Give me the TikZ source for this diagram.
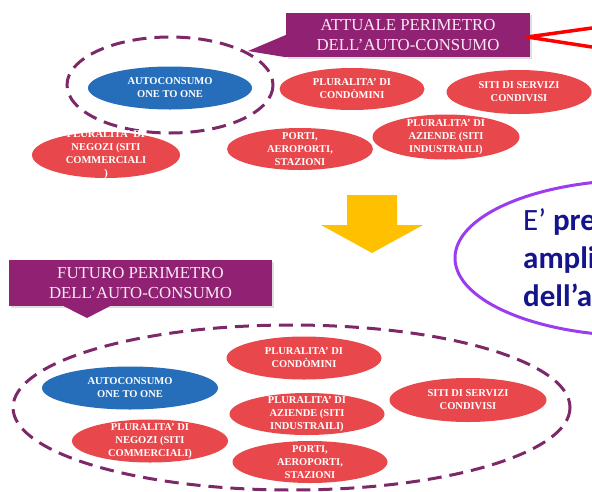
\documentclass[tikz,border=0pt]{standalone}
\usepackage{fontspec}
\setmainfont{Liberation Serif}
\newfontfamily\bubblefont{Carlito}
\usetikzlibrary{shapes.geometric,shadows}

\definecolor{boxpurple}{RGB}{145,34,115}
\definecolor{dashpurple}{RGB}{125,40,105}
\definecolor{blobred}{RGB}{232,72,76}
\definecolor{blobblue}{RGB}{38,110,185}
\definecolor{arrowyellow}{RGB}{255,192,0}
\definecolor{bubbleviolet}{RGB}{155,60,240}
\definecolor{bubbletext}{RGB}{20,20,140}
\definecolor{titletext}{RGB}{250,232,245}

\begin{document}
\begin{tikzpicture}[x=1pt,y=-1pt,
    titlebox/.style={fill=boxpurple, text=titletext, align=center, inner sep=0pt,
      font=\fontsize{16.8}{20}\selectfont,
      drop shadow={shadow xshift=1.5pt,shadow yshift=-2pt,opacity=0.25}},
    blob/.style={ellipse, inner sep=0pt},
    redblob/.style={blob, fill=blobred},
    blueblob/.style={blob, fill=blobblue},
    blobtext/.style={align=center, text=white, inner sep=0pt,
      font=\fontsize{10.5}{13}\selectfont\bfseries},
    perimeter/.style={draw=dashpurple, line width=3pt, dash pattern=on 14pt off 8pt}]
    \useasboundingbox (0,0) rectangle (592,491);
    \clip (0,0) rectangle (592,491);

    % current perimeter
    \node[titlebox, minimum width=244pt, minimum height=44pt] (attuale) at (408,35) {ATTUALE PERIMETRO\\DELL’AUTO-CONSUMO};
    \coordinate (attualetip) at (248,51);
    \fill[boxpurple] (attuale.west) -- (attualetip) -- (attuale.south west) -- cycle;

    \draw[perimeter] (170,85) ellipse [x radius=103, y radius=48];

    \node[blueblob, minimum width=164pt, minimum height=43pt, label={[blobtext]center:{AUTOCONSUMO\\ONE TO ONE}}] (oneoneA) at (170,88) {};
    \node[redblob, minimum width=148pt, minimum height=46pt, label={[blobtext]center:{PLURALITA’ DI\\NEGOZI (SITI\\COMMERCIALI\\)}}] (negoziA) at (106,155) {};
    \node[redblob, minimum width=146pt, minimum height=42pt, label={[blobtext]center:{PORTI,\\AEROPORTI,\\STAZIONI}}] (portiA) at (300,149) {};
    \node[redblob, minimum width=145pt, minimum height=42pt, label={[blobtext]center:{PLURALITA’ DI\\CONDÒMINI}}] (condominiA) at (352,89) {};
    \node[redblob, minimum width=145pt, minimum height=44pt, label={[blobtext]center:{SITI DI SERVIZI\\CONDIVISI}}] (serviziA) at (519,92) {};
    \node[redblob, minimum width=147pt, minimum height=45pt, label={[blobtext]center:{PLURALITA’ DI\\AZIENDE (SITI\\INDUSTRAILI)}}] (aziendeA) at (446,137) {};

    % callout lines
    \coordinate (redup) at (592,28);
    \coordinate (reddown) at (592,47);
    \draw[red, line width=3.5pt, line join=round] (redup) -- ([xshift=-3pt,yshift=-2pt]attuale.east) -- (reddown);

    % arrow
    \fill[arrowyellow] (347,195) -- (397,195) -- (397,225) -- (423,225) -- (372,253) -- (321,225) -- (347,225) -- cycle;

    % bubble
    \draw[bubbleviolet, line width=3pt] (640,258) ellipse [x radius=185, y radius=78];
    \node[anchor=north west, align=left, inner sep=0pt, text=bubbletext,
      font=\bubblefont\fontsize{31}{38}\selectfont] (bubbletxt) at (523,208) {E’ \textbf{pre}\\\textbf{ampli}\\\textbf{dell’a}};

    % future perimeter
    \node[titlebox, minimum width=263pt, minimum height=46pt] (futuro) at (140.5,283) {FUTURO PERIMETRO\\DELL’AUTO-CONSUMO};
    \coordinate (futurotip) at (87,318);
    \fill[boxpurple] ([xshift=55pt]futuro.south west) -- (futurotip) -- ([xshift=101pt]futuro.south west) -- cycle;

    \draw[perimeter] (291.5,407.5) ellipse [x radius=278.5, y radius=82.5];

    \node[blueblob, minimum width=176pt, minimum height=43pt, label={[blobtext]center:{AUTOCONSUMO\\ONE TO ONE}}] (oneoneB) at (130,388) {};
    \node[redblob, minimum width=156pt, minimum height=43pt, label={[blobtext]center:{PLURALITA’ DI\\NEGOZI (SITI\\COMMERCIALI)}}] (negoziB) at (150,441) {};
    \node[redblob, minimum width=155pt, minimum height=43pt, label={[blobtext]center:{PLURALITA’ DI\\CONDÒMINI}}] (condominiB) at (304,358) {};
    \node[redblob, minimum width=155pt, minimum height=42pt, label={[blobtext]center:{PLURALITA’ DI\\AZIENDE (SITI\\INDUSTRAILI)}}] (aziendeB) at (307,414) {};
    \node[redblob, minimum width=155pt, minimum height=42pt, label={[blobtext]center:{PORTI,\\AEROPORTI,\\STAZIONI}}] (portiB) at (310,462) {};
    \node[redblob, minimum width=157pt, minimum height=44pt, label={[blobtext]center:{SITI DI SERVIZI\\CONDIVISI}}] (serviziB) at (468,400) {};
\end{tikzpicture}
\end{document}
